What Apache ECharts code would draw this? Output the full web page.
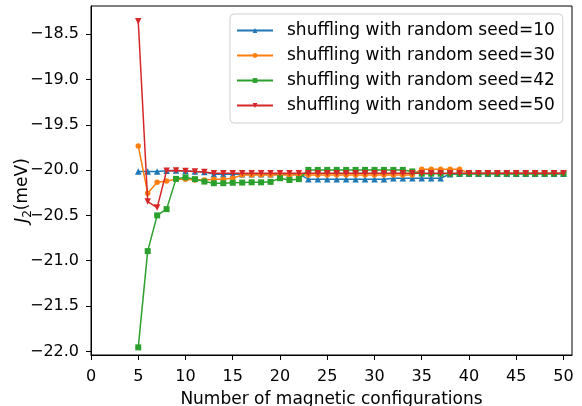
<!DOCTYPE html>
<html>
<head>
<meta charset="utf-8">
<script src="https://cdn.jsdelivr.net/npm/echarts@6/dist/echarts.min.js"></script>
<style>
  html, body { margin: 0; padding: 0; background: #fff; }
  #chart { width: 582px; height: 406px; }
</style>
</head>
<body>
<div id="chart"></div>
<script>
// Number of magnetic configurations used in the fit
const configs = [5, 6, 7, 8, 9, 10, 11, 12, 13, 14, 15, 16, 17, 18, 19, 20, 21, 22, 23, 24,
  25, 26, 27, 28, 29, 30, 31, 32, 33, 34, 35, 36, 37, 38, 39, 40, 41, 42, 43, 44,
  45, 46, 47, 48, 49, 50];

// Fitted J2 (meV) for each shuffling seed
const seed10 = [-20.017, -20.017, -20.017, -20.008, -20.006, -20.010, -20.017, -20.020, -20.045, -20.045,
  -20.045, -20.045, -20.045, -20.045, -20.045, -20.045, -20.045, -20.045, -20.100, -20.100,
  -20.100, -20.100, -20.100, -20.100, -20.100, -20.100, -20.100, -20.090, -20.090, -20.090,
  -20.090, -20.090, -20.090, -20.045, -20.040, -20.040, -20.040, -20.040, -20.040, -20.040,
  -20.040, -20.040, -20.040, -20.040, -20.040, -20.040];
const seed30 = [-19.734, -20.255, -20.134, -20.120, -20.100, -20.100, -20.110, -20.110, -20.100, -20.100,
  -20.090, -20.053, -20.053, -20.053, -20.053, -20.053, -20.053, -20.053, -20.053, -20.053,
  -20.053, -20.053, -20.053, -20.053, -20.053, -20.053, -20.053, -20.053, -20.053, -20.053,
  -19.990, -19.990, -19.990, -19.990, -19.990, -20.035, -20.035, -20.035, -20.035, -20.035,
  -20.035, -20.035, -20.035, -20.035, -20.035, -20.035];
const seed42 = [-21.956, -20.894, -20.500, -20.431, -20.097, -20.080, -20.100, -20.127, -20.145, -20.145,
  -20.140, -20.138, -20.135, -20.135, -20.130, -20.090, -20.110, -20.100, -19.998, -19.998,
  -19.998, -19.998, -19.998, -19.998, -19.998, -19.998, -19.998, -19.998, -19.998, -20.015,
  -20.040, -20.040, -20.040, -20.040, -20.040, -20.040, -20.040, -20.040, -20.040, -20.040,
  -20.040, -20.040, -20.040, -20.040, -20.040, -20.040];
const seed50 = [-18.357, -20.347, -20.414, -20.008, -20.006, -20.010, -20.017, -20.020, -20.035, -20.035,
  -20.035, -20.035, -20.035, -20.035, -20.035, -20.035, -20.035, -20.035, -20.035, -20.035,
  -20.035, -20.035, -20.035, -20.035, -20.035, -20.035, -20.035, -20.035, -20.035, -20.035,
  -20.035, -20.035, -20.035, -20.035, -20.035, -20.035, -20.035, -20.035, -20.035, -20.035,
  -20.035, -20.035, -20.035, -20.035, -20.035, -20.035];

// Tick labels
const xTicks = [0, 5, 10, 15, 20, 25, 30, 35, 40, 45, 50];
const yTicks = [-22.0, -21.5, -21.0, -20.5, -20.0, -19.5, -19.0, -18.5];

const seriesNames = [
  'shuffling with random seed=10',
  'shuffling with random seed=30',
  'shuffling with random seed=42',
  'shuffling with random seed=50'
];

const FONT = 'DejaVu Sans';
const pair = (vals) => configs.map((c, i) => [c, vals[i]]);

const styles = [
  { color: '#1f77b4', symbol: 'triangle', symbolSize: 6.5, rotate: 0 },
  { color: '#ff7f0e', symbol: 'circle', symbolSize: 5.5, rotate: 0 },
  { color: '#2ca02c', symbol: 'rect', symbolSize: 6, rotate: 0 },
  { color: '#d62728', symbol: 'triangle', symbolSize: 6.5, rotate: 180 }
];
const allData = [seed10, seed30, seed42, seed50];

const series = allData.map((vals, k) => ({
  name: seriesNames[k],
  type: 'line',
  data: pair(vals),
  symbol: styles[k].symbol,
  symbolSize: styles[k].symbolSize,
  symbolRotate: styles[k].rotate,
  showAllSymbol: true,
  animation: false,
  lineStyle: { color: styles[k].color, width: 1.5 },
  itemStyle: { color: styles[k].color },
  emphasis: { disabled: true },
  z: 2 + k
}));

const minus = (s) => s.replace('-', '\u2212');

const chart = echarts.init(document.getElementById('chart'), null, { renderer: 'canvas' });
chart.setOption({
  animation: false,
  backgroundColor: '#fff',
  textStyle: { fontFamily: FONT },
  grid: {
    left: 91, right: 10, top: 6, bottom: 51,
    outerBoundsMode: 'none',
    containLabel: false,
    show: true, borderColor: '#000', borderWidth: 1, backgroundColor: 'transparent'
  },
  legend: {
    orient: 'vertical',
    left: 230, top: 14,
    itemWidth: 36, itemHeight: 6, itemGap: 8,
    padding: [8, 8, 9, 6],
    borderColor: '#d0d0d0', borderWidth: 1, borderRadius: 4,
    backgroundColor: 'rgba(255,255,255,0.8)',
    textStyle: { fontFamily: FONT, fontSize: 17, color: '#000', padding: [0, 0, 0, 9] },
    data: seriesNames
  },
  xAxis: {
    type: 'value', min: 0, max: 50.9,
    name: 'Number of magnetic configurations',
    nameLocation: 'middle', nameGap: 36, nameMoveOverlap: false,
    nameTextStyle: { fontFamily: FONT, fontSize: 17, color: '#000' },
    axisLine: { show: true, onZero: false, lineStyle: { color: '#000', width: 1 } },
    axisTick: { show: true, length: 5, lineStyle: { color: '#000' }, customValues: xTicks },
    axisLabel: { fontFamily: FONT, fontSize: 16, color: '#000', margin: 14, customValues: xTicks,
      alignMinLabel: 'center', alignMaxLabel: 'center',
      formatter: (v) => minus(String(v)) },
    splitLine: { show: false }
  },
  yAxis: {
    type: 'value', min: -22.04, max: -18.19,
    name: '{j|J}{s|2}{a|(meV)}',
    nameLocation: 'middle', nameGap: 57, nameRotate: 90, nameMoveOverlap: false,
    nameTextStyle: {
      fontFamily: FONT, color: '#000',
      padding: [0, 20, 0, 0],
      rich: {
        j: { fontFamily: FONT, fontSize: 17, fontStyle: 'italic', lineHeight: 22, verticalAlign: 'middle', color: '#000' },
        s: { fontFamily: FONT, fontSize: 12, lineHeight: 12, verticalAlign: 'bottom', color: '#000' },
        a: { fontFamily: FONT, fontSize: 17, lineHeight: 22, verticalAlign: 'middle', color: '#000' }
      }
    },
    axisLine: { show: true, onZero: false, lineStyle: { color: '#000', width: 1 } },
    axisTick: { show: true, length: 5, lineStyle: { color: '#000' }, customValues: yTicks },
    axisLabel: { fontFamily: FONT, fontSize: 16, color: '#000', margin: 12, customValues: yTicks,
      verticalAlignMinLabel: 'middle', verticalAlignMaxLabel: 'middle',
      formatter: (v) => minus(v.toFixed(1)) },
    splitLine: { show: false }
  },
  series: series
});
</script>
</body>
</html>
